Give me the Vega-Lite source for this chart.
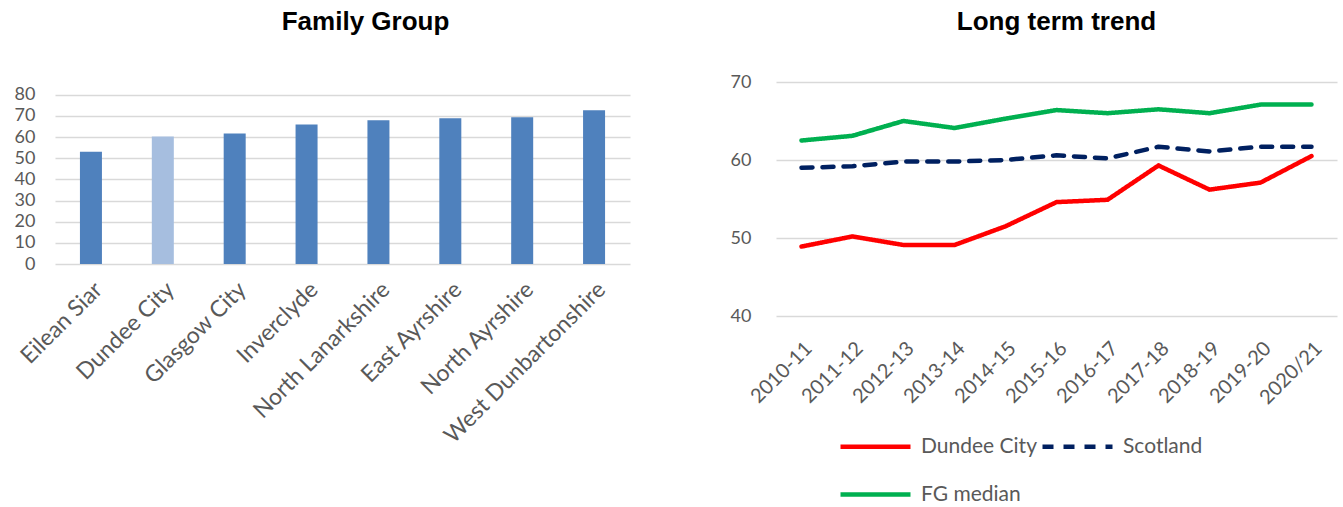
{
  "$schema": "https://vega.github.io/schema/vega-lite/v6.json",
  "padding": {"left": 14, "top": 9, "right": 5, "bottom": 5},
  "background": "white",
  "spacing": 100,
  "config": {
    "font": "Lato",
    "view": {"stroke": null},
    "axis": {"labelColor": "#595959", "labelFont": "Lato", "gridColor": "#d9d9d9", "gridWidth": 1.5, "domain": false, "ticks": false},
    "title": {"font": "Liberation Sans", "fontSize": 26, "fontWeight": "bold", "color": "#000000"}
  },
  "hconcat": [
    {
      "title": {"text": "Family Group", "dx": 23, "offset": 47},
      "width": 575,
      "height": 182,
      "data": {"values": [
        {"area": "Eilean Siar", "value": 53.1},
        {"area": "Dundee City", "value": 60.2},
        {"area": "Glasgow City", "value": 61.7},
        {"area": "Inverclyde", "value": 65.9},
        {"area": "North Lanarkshire", "value": 67.9},
        {"area": "East Ayrshire", "value": 68.9},
        {"area": "North Ayrshire", "value": 69.4},
        {"area": "West Dunbartonshire", "value": 72.7}
      ]},
      "mark": {"type": "bar", "width": 22},
      "encoding": {
        "x": {"field": "area", "type": "nominal", "sort": null, "axis": {"title": null, "labelAngle": -45, "labelFontSize": 23, "labelPadding": 14, "labelLimit": 0, "grid": false}},
        "y": {"field": "value", "type": "quantitative", "scale": {"domain": [0, 86], "nice": false}, "axis": {"title": null, "values": [0, 10, 20, 30, 40, 50, 60, 70, 80], "labelFontSize": 18, "labelPadding": 20}},
        "color": {"condition": {"test": "datum.area === 'Dundee City'", "value": "#a6bedf"}, "value": "#4f81bd"}
      }
    },
    {
      "title": {"text": "Long term trend", "offset": 38},
      "width": 561,
      "height": 234,
      "data": {"values": [
        {"year": "2010-11", "series": "Dundee City", "value": 48.9},
        {"year": "2011-12", "series": "Dundee City", "value": 50.2},
        {"year": "2012-13", "series": "Dundee City", "value": 49.1},
        {"year": "2013-14", "series": "Dundee City", "value": 49.1},
        {"year": "2014-15", "series": "Dundee City", "value": 51.5},
        {"year": "2015-16", "series": "Dundee City", "value": 54.6},
        {"year": "2016-17", "series": "Dundee City", "value": 54.9},
        {"year": "2017-18", "series": "Dundee City", "value": 59.3},
        {"year": "2018-19", "series": "Dundee City", "value": 56.2},
        {"year": "2019-20", "series": "Dundee City", "value": 57.1},
        {"year": "2020/21", "series": "Dundee City", "value": 60.5},
        {"year": "2010-11", "series": "Scotland", "value": 59.0},
        {"year": "2011-12", "series": "Scotland", "value": 59.2},
        {"year": "2012-13", "series": "Scotland", "value": 59.8},
        {"year": "2013-14", "series": "Scotland", "value": 59.8},
        {"year": "2014-15", "series": "Scotland", "value": 60.0},
        {"year": "2015-16", "series": "Scotland", "value": 60.6},
        {"year": "2016-17", "series": "Scotland", "value": 60.2},
        {"year": "2017-18", "series": "Scotland", "value": 61.7},
        {"year": "2018-19", "series": "Scotland", "value": 61.1},
        {"year": "2019-20", "series": "Scotland", "value": 61.7},
        {"year": "2020/21", "series": "Scotland", "value": 61.7},
        {"year": "2010-11", "series": "FG median", "value": 62.5},
        {"year": "2011-12", "series": "FG median", "value": 63.1},
        {"year": "2012-13", "series": "FG median", "value": 65.0},
        {"year": "2013-14", "series": "FG median", "value": 64.1},
        {"year": "2014-15", "series": "FG median", "value": 65.3},
        {"year": "2015-16", "series": "FG median", "value": 66.4},
        {"year": "2016-17", "series": "FG median", "value": 66.0},
        {"year": "2017-18", "series": "FG median", "value": 66.5},
        {"year": "2018-19", "series": "FG median", "value": 66.0},
        {"year": "2019-20", "series": "FG median", "value": 67.1},
        {"year": "2020/21", "series": "FG median", "value": 67.1}
      ]},
      "mark": {"type": "line", "strokeWidth": 4.5, "strokeCap": "round", "strokeJoin": "round"},
      "encoding": {
        "x": {"field": "year", "type": "ordinal", "sort": null, "scale": {"type": "point", "padding": 0.5}, "axis": {"title": null, "labelAngle": -45, "labelFontSize": 20, "labelPadding": 22, "grid": false}},
        "y": {"field": "value", "type": "quantitative", "scale": {"domain": [40, 70], "nice": false, "zero": false}, "axis": {"title": null, "values": [40, 50, 60, 70], "labelFontSize": 18, "labelPadding": 25}},
        "color": {"field": "series", "type": "nominal", "scale": {"domain": ["Dundee City", "Scotland", "FG median"], "range": ["#ff0000", "#002060", "#00b050"]},
          "legend": {"title": null, "values": ["Dundee City", "Scotland", "FG median"], "orient": "none", "direction": "horizontal", "legendX": 783, "legendY": 327, "columns": 2, "symbolType": "stroke", "symbolSize": 4900, "symbolStrokeWidth": 4.5, "labelFontSize": 21, "labelColor": "#595959", "labelOffset": 8, "rowPadding": -26, "columnPadding": -4}},
        "strokeDash": {"field": "series", "type": "nominal", "scale": {"domain": ["Dundee City", "Scotland", "FG median"], "range": [[1, 0], [11, 10], [1, 0]]},
          "legend": {"title": null, "values": ["Dundee City", "Scotland", "FG median"], "orient": "none", "direction": "horizontal", "legendX": 783, "legendY": 327, "columns": 2, "symbolType": "stroke", "symbolSize": 4900, "symbolStrokeWidth": 4.5, "labelFontSize": 21, "labelColor": "#595959", "labelOffset": 8, "rowPadding": -26, "columnPadding": -4}}
      }
    }
  ]
}
